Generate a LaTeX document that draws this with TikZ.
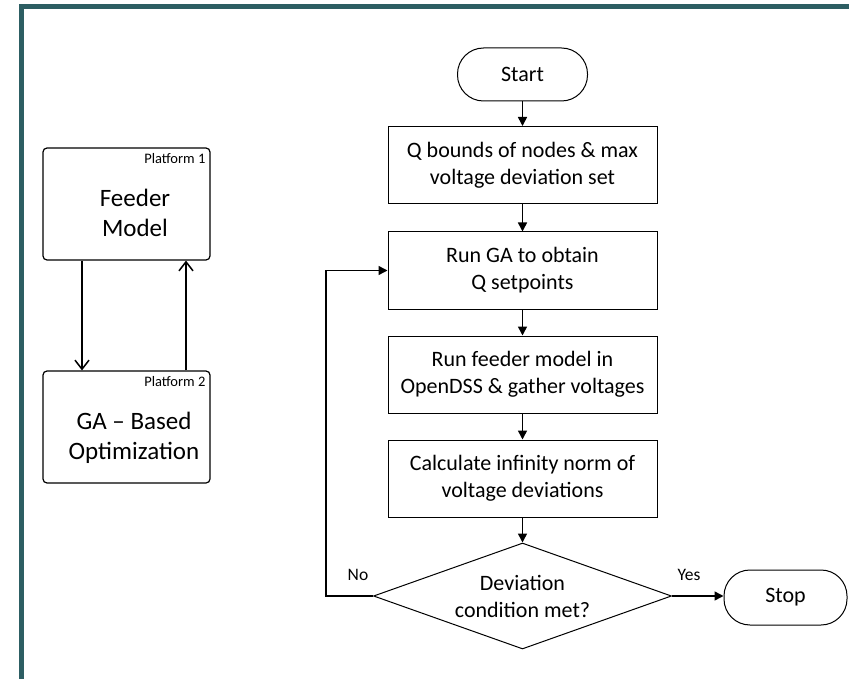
\documentclass[tikz,border=0pt]{standalone}
\usepackage{fontspec}
\setmainfont{Carlito}
\usetikzlibrary{arrows.meta,shapes.geometric,calc}
\definecolor{frameteal}{HTML}{2D5E63}
\begin{document}
\begin{tikzpicture}[x=1pt,y=-1pt,
  procbox/.style={draw, line width=1pt, minimum width=269pt, minimum height=77pt,
    align=center, inner sep=0pt, font=\fontsize{22}{27}\selectfont},
  termbox/.style={draw, line width=1pt, rounded corners=26pt, inner sep=0pt,
    font=\fontsize{22}{27}\selectfont},
  decision/.style={draw, line width=1pt, diamond, inner sep=0pt, shape aspect=2.8,
    minimum width=298pt, minimum height=106pt, align=center,
    font=\fontsize{22}{27}\selectfont},
  platbox/.style={draw, line width=1.2pt, rounded corners=4pt,
    minimum width=167pt, minimum height=112pt},
  plattag/.style={anchor=north east, inner sep=0pt, font=\fontsize{14.5}{16}\selectfont},
  plattext/.style={align=center, inner sep=0pt, font=\fontsize{25}{30}\selectfont},
  flow/.style={line width=1.5pt, -{Triangle[length=9pt,width=9pt]}},
  link/.style={line width=1.5pt, -{Straight Barb[length=9pt,width=14pt]}},
  branch/.style={inner sep=0pt, font=\fontsize{17.5}{20}\selectfont}
]
\useasboundingbox (0,0) rectangle (849,679);
% outer frame
\begin{scope}
  \clip (0,0) rectangle (849,679);
  \draw[frameteal, line width=5pt] (21.5,6.5) rectangle (900,720);
\end{scope}

% platforms
\node[platbox] (fm) at (126.5,204) {};
\node[plattag] (fmtag) at ($(fm.north east)+(-5,6)$) {Platform 1};
\node[plattext] (fmtext) at (135,213) {Feeder\\Model};
\node[platbox] (ga) at (126.5,427) {};
\node[plattag] (gatag) at ($(ga.north east)+(-5,6)$) {Platform 2};
\node[plattext] (gatext) at (134,437.5) {GA -- Based\\Optimization};
\coordinate (xdown) at (82,0);
\coordinate (xup) at (186,0);
\draw[link] (fm.south -| xdown) -- (ga.north -| xdown);
\draw[link] (ga.north -| xup) -- (fm.south -| xup);

% flowchart
\node[termbox, minimum width=130pt, minimum height=53pt] (start) at (522.5,74.5) {Start};
\node[procbox] (b1) at (522.5,165) {Q bounds of nodes \& max\\voltage deviation set};
\node[procbox] (b2) at (522.5,270.5) {Run GA to obtain\\Q setpoints};
\node[procbox] (b3) at (522.5,374.5) {Run feeder model in\\OpenDSS \& gather voltages};
\node[procbox] (b4) at (522.5,478.5) {Calculate infinity norm of\\voltage deviations};
\node[decision] (dec) at (522.5,596) {Deviation\\condition met?};
\node[termbox, minimum width=123pt, minimum height=55pt] (stop) at (785.5,597.5) {Stop};

\draw[flow] (start) -- (b1);
\draw[flow] (b1) -- (b2);
\draw[flow] (b2) -- (b3);
\draw[flow] (b3) -- (b4);
\draw[flow] (b4) -- (dec);
\draw[flow] (dec.east) -- (stop.west |- dec.east);
\coordinate (loopx) at (326,0);
\draw[flow] (dec.west) -- (dec.west -| loopx) |- (b2.west);

\node[branch] (no) at (358,575) {No};
\node[branch] (yes) at (689,575) {Yes};
\end{tikzpicture}
\end{document}
